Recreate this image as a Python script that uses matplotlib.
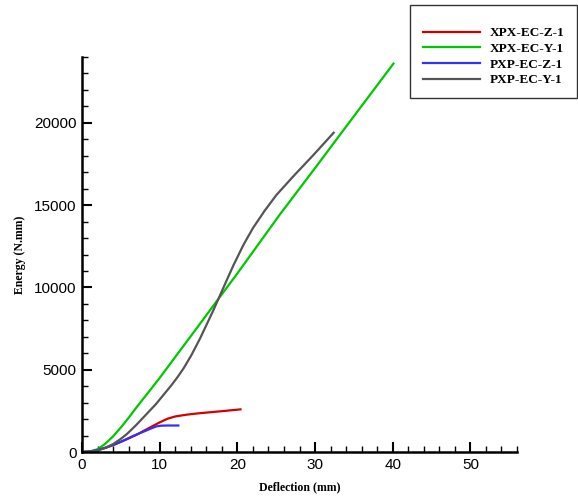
import matplotlib
matplotlib.use("Agg")
import matplotlib.pyplot as plt
from matplotlib.ticker import MultipleLocator
from matplotlib.patches import Rectangle
from matplotlib.lines import Line2D

labels = ["XPX-EC-Z-1", "XPX-EC-Y-1", "PXP-EC-Z-1", "PXP-EC-Y-1"]
colors = ["#d40000", "#00c800", "#3030ff", "#555555"]

red_x = [0, 1, 2, 3, 4, 5, 5.8, 7, 8, 9, 10, 11, 12, 13.5, 15, 18, 20.4]
red_y = [0, 30, 110, 250, 420, 620, 780, 1040, 1300, 1550, 1800, 2020, 2160, 2270, 2350, 2480, 2590]

green_x = [0, 1, 2, 3, 4, 5.2, 6.2, 7, 8, 9, 10, 12, 15, 17.4, 20, 25.5, 30, 35, 40.1]
green_y = [0, 20, 170, 500, 950, 1600, 2200, 2700, 3300, 3900, 4500, 5770, 7670, 9200, 10850, 14450, 17250, 20400, 23600]

blue_x = [0, 1, 2, 3, 4, 5, 5.8, 6.6, 8, 9, 9.6, 10.2, 11, 12.4]
blue_y = [0, 30, 120, 260, 420, 620, 800, 980, 1250, 1450, 1560, 1600, 1610, 1610]

grey_x = [0, 1, 2, 3, 4, 5, 5.8, 7, 8.3, 9.5, 11.5, 12.3, 13.1, 14.1, 15.2, 16.9, 18.5,
          19.5, 20.8, 22, 23.5, 25, 27.3, 29.8, 32.4]
grey_y = [0, 20, 90, 250, 480, 800, 1100, 1650, 2300, 2900, 4050, 4550, 5100, 5900, 6900, 8600, 10300,
          11350, 12600, 13600, 14650, 15600, 16800, 18050, 19400]

series_x = [red_x, green_x, blue_x, grey_x]
series_y = [red_y, green_y, blue_y, grey_y]

fig = plt.figure(figsize=(5.78, 4.97), dpi=100)
ax = fig.add_axes([82/578, 1-452/497, (517-82)/578, (452-57)/497])

for x, y, c in zip(series_x, series_y, colors):
    ax.plot(x, y, color=c, lw=1.6, solid_joinstyle="round")

ax.set_xlim(0, 56)
ax.set_ylim(0, 24000)
ax.xaxis.set_major_locator(MultipleLocator(10))
ax.xaxis.set_minor_locator(MultipleLocator(2))
ax.yaxis.set_major_locator(MultipleLocator(5000))
ax.yaxis.set_minor_locator(MultipleLocator(1000))
for s in ["top", "right"]:
    ax.spines[s].set_visible(False)
for s in ["left", "bottom"]:
    ax.spines[s].set_linewidth(1.8)
ax.tick_params(which="major", direction="in", length=7, width=1.5,
               labelsize=11, pad=4)
ax.tick_params(which="minor", direction="in", length=4, width=1)
for t in ax.get_xticklabels() + ax.get_yticklabels():
    t.set_family("Liberation Sans")

ax.set_xlabel("Deflection (mm)", family="Liberation Serif", fontweight="bold", fontsize=8.5, labelpad=7)
ax.set_ylabel("Energy (N.mm)", family="Liberation Serif", fontweight="bold", fontsize=8.5, labelpad=6)

# legend box
fig.patches.append(Rectangle((410/578, 1-98/497), (577-410)/578, (98-5)/497,
                             transform=fig.transFigure, fill=False,
                             edgecolor="#333333", lw=1.0))
handles = [Line2D([0], [0], color=c, lw=1.6) for c in colors]
leg = fig.legend(handles, labels, loc="upper left",
                 bbox_to_anchor=(423/578, 1-27/497), frameon=False,
                 prop={"family": "Liberation Serif", "weight": "bold", "size": 9.5},
                 handlelength=4.3, handletextpad=0.75, labelspacing=0.26,
                 borderpad=0, borderaxespad=0)

fig.savefig("out.png", dpi=100)
